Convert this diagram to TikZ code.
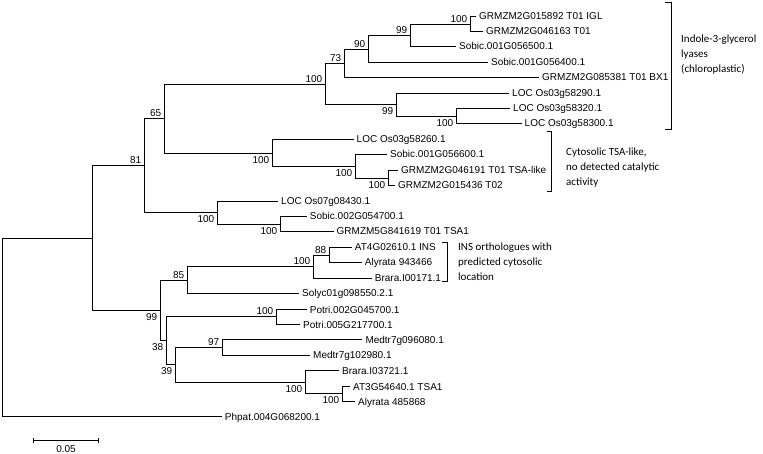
\documentclass[tikz,border=0pt]{standalone}
\usepackage{fontspec}
\setmainfont{Liberation Sans}
\newfontfamily\notefont{Carlito}
\usepackage{tikz}
\usetikzlibrary{positioning, arrows.meta}
\tikzset{
  branch/.style = {line width=1.4pt},
  taxon/.style = {anchor=west, inner xsep=3pt, inner ysep=0pt, text height=7pt, text depth=0pt, font=\fontsize{10}{12}\selectfont},
  boot/.style = {inner sep=0pt, font=\fontsize{10}{12}\selectfont},
  bsup/.style = {boot, anchor=south east, xshift=-3pt, yshift=2pt},
  bsdn/.style = {boot, anchor=north east, xshift=-3pt, yshift=-3pt},
  note/.style = {anchor=west, align=left, inner sep=0pt, font=\notefont\fontsize{11}{15}\selectfont},
}

\begin{document}
\begin{tikzpicture}[x=1pt, y=-1pt]
  \useasboundingbox (0,0) rectangle (763,454);

  % internal nodes of the tree
  \coordinate (nroot) at (2.5,327.5);
  \coordinate (nA) at (92.5,238.5);
  \coordinate (nB) at (144.5,165.5);
  \coordinate (nC) at (160.5,310.5);
  \coordinate (nD) at (164.5,118.5);
  \coordinate (nE) at (217.5,212.5);
  \coordinate (nF) at (325.5,84.5);
  \coordinate (nG) at (272.5,153.5);
  \coordinate (nH) at (344.5,63.5);
  \coordinate (nI) at (396.5,104.5);
  \coordinate (nJ) at (368.5,49.5);
  \coordinate (nK) at (410.5,35.5);
  \coordinate (nL) at (470.5,24.5);
  \coordinate (nM) at (456.5,116.5);
  \coordinate (nN) at (355.5,166.5);
  \coordinate (nO) at (388.5,178.5);
  \coordinate (nP) at (280.5,224.5);
  \coordinate (nQ) at (187.5,280.5);
  \coordinate (nR) at (166.5,340.5);
  \coordinate (nS) at (313.5,266.5);
  \coordinate (nT) at (329.5,255.5);
  \coordinate (nU) at (276.5,316.5);
  \coordinate (nV) at (175.5,364.5);
  \coordinate (nW) at (222.5,347.5);
  \coordinate (nX) at (305.5,382.5);
  \coordinate (nY) at (342.5,393.5);

  % taxa
  \node[taxon] (t1)  at (476,16.5)  {GRMZM2G015892 T01 IGL};
  \node[taxon] (t2)  at (483,31.5)  {GRMZM2G046163 T01};
  \node[taxon] (t3)  at (456,46.5)  {Sobic.001G056500.1};
  \node[taxon] (t4)  at (488,62.5)  {Sobic.001G056400.1};
  \node[taxon] (t5)  at (539,77.5)  {GRMZM2G085381 T01 BX1};
  \node[taxon] (t6)  at (509,93.5)  {LOC Os03g58290.1};
  \node[taxon] (t7)  at (510,108.5) {LOC Os03g58320.1};
  \node[taxon] (t8)  at (521.5,123.5) {LOC Os03g58300.1};
  \node[taxon] (t9)  at (353.5,139.5) {LOC Os03g58260.1};
  \node[taxon] (t10) at (387,154.5) {Sobic.001G056600.1};
  \node[taxon] (t11) at (398,170.5) {GRMZM2G046191 T01 TSA-like};
  \node[taxon] (t12) at (395,185.5) {GRMZM2G015436 T02};
  \node[taxon] (t13) at (278,201.5) {LOC Os07g08430.1};
  \node[taxon] (t14) at (306.7,216.5) {Sobic.002G054700.1};
  \node[taxon] (t15) at (333.5,231.5) {GRMZM5G841619 T01 TSA1};
  \node[taxon] (t16) at (351.7,247.5) {AT4G02610.1 INS};
  \node[taxon] (t17) at (361.7,262.5) {Alyrata 943466};
  \node[taxon] (t18) at (371.7,278.5) {Brara.I00171.1};
  \node[taxon] (t19) at (299,293.5) {Solyc01g098550.2.1};
  \node[taxon] (t20) at (306.7,309.5) {Potri.002G045700.1};
  \node[taxon] (t21) at (300,324.5) {Potri.005G217700.1};
  \node[taxon] (t22) at (362.3,339.5) {Medtr7g096080.1};
  \node[taxon] (t23) at (310,355.5) {Medtr7g102980.1};
  \node[taxon] (t24) at (339,370.5) {Brara.I03721.1};
  \node[taxon] (t25) at (350,386.5) {AT3G54640.1 TSA1};
  \node[taxon] (t26) at (355,401.5) {Alyrata 485868};
  \node[taxon] (t27) at (221.7,416.5) {Phpat.004G068200.1};

  % branches
  \draw[branch] (nroot) |- (nA) (nroot) |- (t27.west);
  \draw[branch] (nA) |- (nB) (nA) |- (nC);
  \draw[branch] (nB) |- (nD) (nB) |- (nE);
  \draw[branch] (nD) |- (nF) (nD) |- (nG);
  \draw[branch] (nF) |- (nH) (nF) |- (nI);
  \draw[branch] (nH) |- (nJ) (nH) |- (t5.west);
  \draw[branch] (nJ) |- (nK) (nJ) |- (t4.west);
  \draw[branch] (nK) |- (nL) (nK) |- (t3.west);
  \draw[branch] (nL) |- (t1.west) (nL) |- (t2.west);
  \draw[branch] (nI) |- (t6.west) (nI) |- (nM);
  \draw[branch] (nM) |- (t7.west) (nM) |- (t8.west);
  \draw[branch] (nG) |- (t9.west) (nG) |- (nN);
  \draw[branch] (nN) |- (t10.west) (nN) |- (nO);
  \draw[branch] (nO) |- (t11.west) (nO) |- (t12.west);
  \draw[branch] (nE) |- (t13.west) (nE) |- (nP);
  \draw[branch] (nP) |- (t14.west) (nP) |- (t15.west);
  \draw[branch] (nC) |- (nQ) (nC) |- (nR);
  \draw[branch] (nQ) |- (nS) (nQ) |- (t19.west);
  \draw[branch] (nS) |- (nT) (nS) |- (t18.west);
  \draw[branch] (nT) |- (t16.west) (nT) |- (t17.west);
  \draw[branch] (nR) |- (nU) (nR) |- (nV);
  \draw[branch] (nU) |- (t20.west) (nU) |- (t21.west);
  \draw[branch] (nV) |- (nW) (nV) |- (nX);
  \draw[branch] (nW) |- (t22.west) (nW) |- (t23.west);
  \draw[branch] (nX) |- (t24.west) (nX) |- (nY);
  \draw[branch] (nY) |- (t25.west) (nY) |- (t26.west);

  % bootstrap values
  \node[bsup] (bB) at (nB) {81};
  \node[bsup] (bD) at (nD) {65};
  \node[bsdn] (bE) at (nE) {100};
  \node[bsup] (bF) at (nF) {100};
  \node[bsdn] (bG) at (nG) {100};
  \node[bsup] (bH) at (nH) {73};
  \node[bsdn] (bI) at (nI) {99};
  \node[bsup] (bJ) at (nJ) {90};
  \node[bsup] (bK) at (nK) {99};
  \node[bsup] (bL) at (nL) {100};
  \node[bsdn] (bM) at (nM) {100};
  \node[bsdn] (bN) at (nN) {100};
  \node[bsdn] (bO) at (nO) {100};
  \node[bsdn] (bP) at (nP) {100};
  \node[bsdn] (bC) at (nC) {99};
  \node[bsup] (bQ) at (nQ) {85};
  \node[bsup] (bS) at (nS) {100};
  \node[bsup] (bT) at (nT) {88};
  \node[bsdn] (bR) at (nR) {38};
  \node[bsup] (bU) at (nU) {100};
  \node[bsdn] (bV) at (nV) {39};
  \node[bsup] (bW) at (nW) {97};
  \node[bsdn] (bX) at (nX) {100};
  \node[bsdn] (bY) at (nY) {100};

  % clade brackets
  \draw[branch] (665,2.5) -- (671.5,2.5) -- (671.5,129.5) -- (665,129.5);
  \node[note] (g1) at (681,55) {Indole-3-glycerol\\lyases\\(chloroplastic)};
  \draw[branch] (546.5,131.5) -- (551.5,131.5) -- (551.5,191.5) -- (546.5,191.5);
  \node[note] (g2) at (566,168) {Cytosolic TSA-like,\\no detected catalytic\\activity};
  \draw[branch] (442,242.5) -- (447.5,242.5) -- (447.5,281.5) -- (442,281.5);
  \node[note] (g3) at (458,262) {INS orthologues with\\predicted cytosolic\\location};

  % scale bar
  \coordinate (s0) at (33,440.5);
  \coordinate (s1) at (99,440.5);
  \coordinate (smid) at (66,440.5);
  \draw[line width=0.8pt, {Bar[width=5pt]}-{Bar[width=5pt]}] (s0) -- (s1);
  \node[boot, below=5pt of smid] (sl) {0.05};
\end{tikzpicture}
\end{document}
